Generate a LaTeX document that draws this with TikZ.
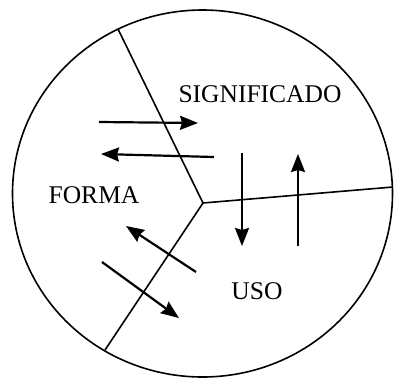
\documentclass[tikz,border=0pt]{standalone}
\usepackage{fontspec}
\setmainfont{Liberation Serif}
\usetikzlibrary{arrows.meta}

\tikzset{
  region/.style={font=\fontsize{25.5}{25.5}\selectfont, inner sep=0pt},
  flow/.style={line width=2.2pt, -{Stealth[length=18pt,width=14pt,inset=2pt]}}
}

\begin{document}
\begin{tikzpicture}[x=1pt,y=-1pt]
\useasboundingbox (0,0) rectangle (394,378);
% outer circle
\draw[line width=1.6pt] (202.5,193.5) ellipse (190 and 183.5);
% three sectors
\coordinate (hub) at (203,203);
\draw[line width=1.6pt] (hub) -- (118,29);
\draw[line width=1.6pt] (hub) -- (393,187);
\draw[line width=1.6pt] (hub) -- (105,350);
% labels
\node[region] (signif) at (260,94) {SIGNIFICADO};
\node[region] (forma) at (94,195) {FORMA};
\node[region] (uso) at (257,291) {USO};
% forma <-> significado
\draw[flow] (99,122) -- (198,123);
\draw[flow] (214,157) -- (101,154);
% significado <-> uso
\draw[flow] (242,153) -- (242,246);
\draw[flow] (298,246) -- (298,154);
% uso <-> forma
\draw[flow] (196,272) -- (126,226);
\draw[flow] (102,262) -- (179,318);
\end{tikzpicture}
\end{document}
